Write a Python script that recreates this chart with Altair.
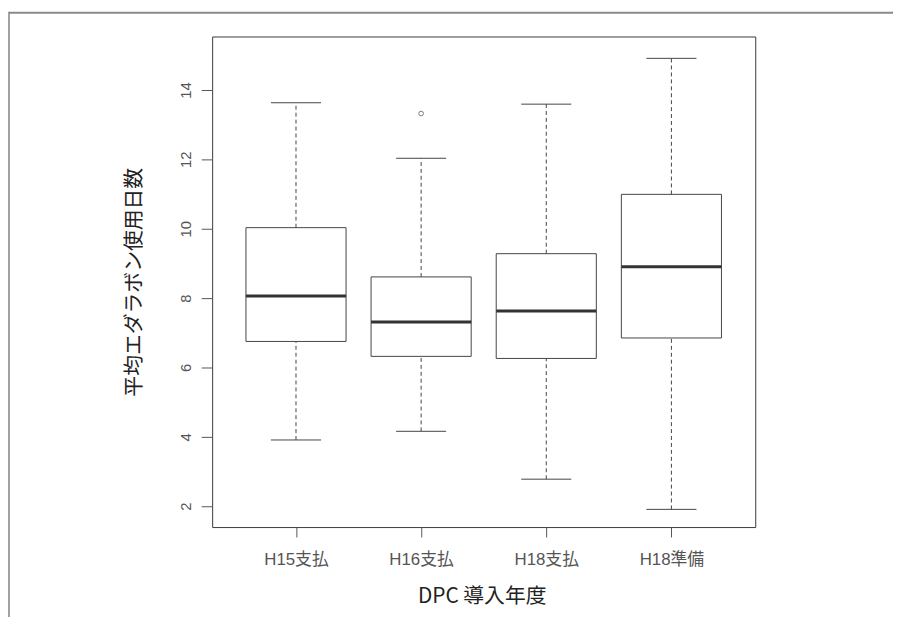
import altair as alt
import pandas as pd

# ---- data ----
categories = ["H15支払", "H16支払", "H18支払", "H18準備"]
whisker_low = [3.91, 4.16, 2.78, 1.91]
q1 = [6.75, 6.32, 6.26, 6.85]
median = [8.06, 7.31, 7.63, 8.90]
q3 = [10.03, 8.61, 9.28, 10.99]
whisker_high = [13.63, 12.03, 13.59, 14.91]
outlier_group = ["H16支払"]
outlier_value = [13.32]

y_ticks = [2, 4, 6, 8, 10, 12, 14]
y_domain = [1.4, 15.54]
x_domain = [0.33, 4.67]

BOX_HALF = 0.4
CAP_HALF = 0.2

idx = [i + 1 for i in range(len(categories))]
df = pd.DataFrame({
    "group": categories,
    "idx": idx,
    "lo": [i - BOX_HALF for i in idx],
    "hi": [i + BOX_HALF for i in idx],
    "cap_lo": [i - CAP_HALF for i in idx],
    "cap_hi": [i + CAP_HALF for i in idx],
    "wmin": whisker_low,
    "q1": q1,
    "med": median,
    "q3": q3,
    "wmax": whisker_high,
})
out_df = pd.DataFrame({
    "idx": [categories.index(g) + 1 for g in outlier_group],
    "value": outlier_value,
})
one = pd.DataFrame({"a": [0]})

xs = alt.Scale(domain=x_domain, nice=False, zero=False)
ys = alt.Scale(domain=y_domain, nice=False, zero=False)

label_expr = "[" + ",".join("'" + c + "'" for c in categories) + "][datum.value - 1]"

TICK_FONT = "Liberation Sans, Noto Sans CJK JP, sans-serif"
TITLE_FONT = "Noto Sans CJK JP, sans-serif"
LINE = "#444444"

x_axis = alt.Axis(
    values=idx, labelExpr=label_expr, title="DPC 導入年度",
    grid=False, domain=False, tickSize=10, tickColor="#555555",
    labelFont=TICK_FONT, labelFontSize=17, labelColor="#555555",
    labelPadding=15, labelAngle=0,
    titleFont=TITLE_FONT, titleFontSize=21, titleFontWeight="normal",
    titleColor="#222222", titleX=272, titleY=70, titleBaseline="middle",
    titleAlign="center",
)
y_axis = alt.Axis(
    values=y_ticks, title="平均エダラボン使用日数",
    grid=False, domain=False, tickSize=11, tickColor="#555555",
    labelFont=TICK_FONT, labelFontSize=15, labelColor="#555555",
    labelAngle=270, labelAlign="center", labelBaseline="alphabetic",
    labelPadding=11,
    titleFont=TITLE_FONT, titleFontSize=21, titleFontWeight="normal",
    titleColor="#222222", titleX=-78, titleY=247.5, titleAngle=270,
    titleAlign="center", titleBaseline="middle",
)


def X(field):
    return alt.X(field, scale=xs, axis=x_axis)


def Y(field):
    return alt.Y(field, scale=ys, axis=y_axis)


base = alt.Chart(df)

boxes = base.mark_rect(fill="white", stroke=LINE, strokeWidth=1).encode(
    x=X("lo:Q"), x2="hi:Q", y=Y("q1:Q"), y2="q3:Q",
)
medians = base.mark_rule(color="#333333", strokeWidth=3).encode(
    x=X("lo:Q"), x2="hi:Q", y=Y("med:Q"),
)
upper_whisker = base.mark_rule(color=LINE, strokeWidth=1, strokeDash=[4, 3]).encode(
    x=X("idx:Q"), y=Y("q3:Q"), y2="wmax:Q",
)
lower_whisker = base.mark_rule(color=LINE, strokeWidth=1, strokeDash=[4, 3]).encode(
    x=X("idx:Q"), y=Y("wmin:Q"), y2="q1:Q",
)
upper_cap = base.mark_rule(color=LINE, strokeWidth=1).encode(
    x=X("cap_lo:Q"), x2="cap_hi:Q", y=Y("wmax:Q"),
)
lower_cap = base.mark_rule(color=LINE, strokeWidth=1).encode(
    x=X("cap_lo:Q"), x2="cap_hi:Q", y=Y("wmin:Q"),
)
outliers = alt.Chart(out_df).mark_point(
    shape="circle", filled=False, color=LINE, size=22, strokeWidth=1
).encode(
    x=X("idx:Q"), y=Y("value:Q"),
)

# outer page frame (decoration of the scanned figure)
frame_top = alt.Chart(one).mark_rule(color="#8a8a8a", strokeWidth=2).encode(
    x=alt.value(-205), x2=alt.value(700), y=alt.value(-24)
)
frame_left = alt.Chart(one).mark_rule(color="#8a8a8a", strokeWidth=1.6).encode(
    x=alt.value(-205), y=alt.value(-25), y2=alt.value(600)
)

chart = alt.layer(
    boxes, medians, upper_whisker, lower_whisker, upper_cap, lower_cap,
    outliers, frame_top, frame_left,
).properties(
    width=548,
    height=495,
    autosize=alt.AutoSizeParams(type="none"),
    padding={"left": 206, "top": 26, "right": 139, "bottom": 88},
    background="white",
).configure_view(
    stroke="#3a3a3a", strokeWidth=1,
)

chart.save("out.html", embed_options={"renderer": "svg", "actions": False})
